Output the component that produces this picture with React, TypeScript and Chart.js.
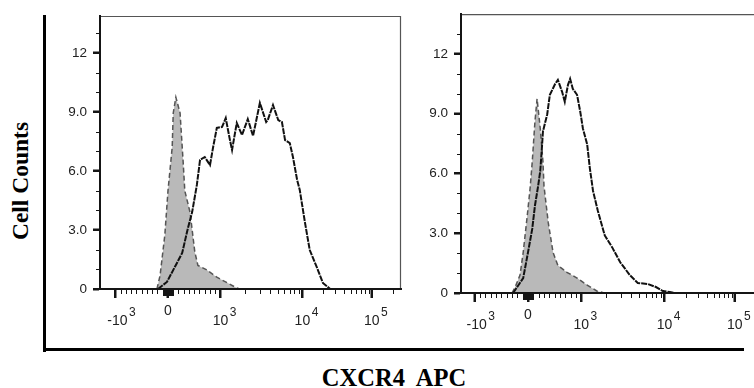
import React, { useEffect, useRef } from "react";
import { Chart, registerables } from "chart.js";
Chart.register(...registerables);

// ---------- axis definitions ----------
const X_TICK_VALUES = [-1000, 0, 1000, 10000, 100000];
const X_LABEL_BASES = ["-10", "0", "10", "10", "10"];
const X_LABEL_EXPS = ["3", "", "3", "4", "5"];
const Y_TICK_VALUES = [0, 3, 6, 9, 12];
const Y_TICK_LABELS = ["0", "3.0", "6.0", "9.0", "12"];
const Y_MINOR_VALUES = [1, 2, 4, 5, 7, 8, 10, 11, 13];

// minor tick values on the biexponential axis
const X_MINOR_VALUES: number[] = [];
for (let k = 1; k <= 9; k++) {
  X_MINOR_VALUES.push(k * 10, -k * 10, k * 100, -k * 100);
  if (k >= 2) X_MINOR_VALUES.push(k * 1000, k * 10000, k * 100000);
}

// biexponential display transform (linear near zero, log above 10^3)
function toDisplay(v: number): number {
  if (Math.abs(v) <= 1000) return v / 1000;
  if (v > 1000 && v <= 10000) return 1 + 1.56 * Math.log10(v / 1000);
  if (v > 10000) return 2.56 + 1.32 * Math.log10(v / 10000);
  return -1 - 1.56 * Math.log10(-v / 1000);
}

// ---------- histogram data (x in display units, y = cell counts) ----------
const LEFT_ISO_X = [-0.21, -0.15, -0.06, 0.0, 0.08, 0.1, 0.15, 0.23, 0.29, 0.32, 0.42, 0.51, 0.57, 0.74, 0.93, 1.14, 1.31, 1.37];
const LEFT_ISO_Y = [0, 0.7, 2.75, 5.0, 7.2, 8.95, 9.75, 8.95, 6.4, 5.0, 3.9, 1.9, 1.2, 0.97, 0.6, 0.3, 0.05, 0];

const LEFT_CXCR4_X = [-0.19, -0.02, 0.13, 0.27, 0.38, 0.46, 0.55, 0.61, 0.7, 0.8, 0.86, 0.93, 1.03, 1.1, 1.18, 1.22, 1.31, 1.41, 1.52, 1.62, 1.75, 1.87, 1.9, 2.0, 2.1, 2.17, 2.23, 2.32, 2.38, 2.46, 2.51, 2.61, 2.7, 2.84, 2.95, 3.09];
const LEFT_CXCR4_Y = [0, 0.36, 1.12, 1.83, 3.1, 3.91, 5.29, 6.56, 6.71, 6.3, 7.22, 8.19, 8.24, 8.69, 7.57, 7.07, 8.44, 7.83, 8.64, 7.78, 9.46, 8.49, 8.59, 9.35, 8.59, 8.49, 7.57, 7.42, 6.71, 5.54, 5.03, 3.36, 1.98, 1.07, 0.31, 0];

const RIGHT_ISO_X = [-0.3, -0.24, -0.15, -0.09, -0.02, 0.04, 0.08, 0.13, 0.17, 0.23, 0.28, 0.3, 0.38, 0.47, 0.56, 0.73, 0.92, 1.11, 1.29, 1.43];
const RIGHT_ISO_Y = [0, 0.3, 0.9, 2.04, 3.73, 5.27, 6.6, 8.6, 9.75, 8.26, 6.6, 5.37, 3.53, 2.04, 1.39, 1.04, 0.75, 0.4, 0.1, 0];

const RIGHT_CXCR4_X = [-0.28, -0.19, -0.09, 0.0, 0.08, 0.13, 0.19, 0.23, 0.26, 0.28, 0.36, 0.41, 0.51, 0.56, 0.64, 0.69, 0.75, 0.79, 0.84, 0.92, 0.98, 1.03, 1.11, 1.16, 1.22, 1.31, 1.44, 1.58, 1.73, 1.91, 2.06, 2.25, 2.4, 2.53, 2.66, 2.76];
const RIGHT_CXCR4_Y = [0, 0.35, 0.75, 2.04, 3.23, 4.38, 5.37, 6.12, 7.26, 8.11, 8.96, 9.95, 10.5, 10.7, 10.1, 9.6, 10.45, 10.75, 10.25, 9.95, 9.1, 8.26, 7.46, 6.27, 5.12, 4.13, 2.89, 2.29, 1.54, 0.9, 0.5, 0.45, 0.3, 0.1, 0.05, 0];

const AXIS_COLOR = "#151515";
const LABEL_COLOR = "#222";
const SANS = '"Liberation Sans", Arial, sans-serif';

const zip = (xs: number[], ys: number[]) => xs.map((x, i) => ({ x, y: ys[i] }));

// panel frame (top/right in gray) plus the dark axis lines and all tick marks
const axesPlugin = {
  id: "axesOverlay",
  afterDraw(chart: any) {
    const { ctx, chartArea } = chart;
    const { left, right, top, bottom } = chartArea;
    const x = chart.scales.x;
    const y = chart.scales.y;
    ctx.save();
    // frame
    ctx.strokeStyle = "#555";
    ctx.lineWidth = 1.2;
    ctx.beginPath();
    ctx.moveTo(left, top + 0.5);
    ctx.lineTo(right - 0.5, top + 0.5);
    ctx.lineTo(right - 0.5, bottom);
    ctx.stroke();
    // axis lines
    ctx.strokeStyle = AXIS_COLOR;
    ctx.lineWidth = 2;
    ctx.beginPath();
    ctx.moveTo(left, top);
    ctx.lineTo(left, bottom + 1);
    ctx.moveTo(left - 1, bottom);
    ctx.lineTo(right, bottom);
    // major ticks
    for (const v of X_TICK_VALUES) {
      const px = Math.round(x.getPixelForValue(toDisplay(v)));
      ctx.moveTo(px, bottom);
      ctx.lineTo(px, bottom + 9);
    }
    for (const v of Y_TICK_VALUES) {
      const py = Math.round(y.getPixelForValue(v));
      ctx.moveTo(left, py);
      ctx.lineTo(left - 7, py);
    }
    ctx.stroke();
    // minor ticks
    ctx.lineWidth = 1;
    ctx.beginPath();
    for (const v of X_MINOR_VALUES) {
      const d = toDisplay(v);
      if (d < x.min || d > x.max) continue;
      const px = Math.round(x.getPixelForValue(d)) + 0.5;
      const len = Math.abs(v) < 100 ? 7 : 5;
      ctx.moveTo(px, bottom);
      ctx.lineTo(px, bottom + len);
    }
    for (const v of Y_MINOR_VALUES) {
      if (v > y.max) continue;
      const py = Math.round(y.getPixelForValue(v)) + 0.5;
      ctx.moveTo(left, py);
      ctx.lineTo(left - 4, py);
    }
    ctx.stroke();
    ctx.restore();
  },
};

// x tick labels with superscript exponents (10^n), placed via the x scale
const expLabelPlugin = {
  id: "expLabels",
  afterDraw(chart: any) {
    const { ctx } = chart;
    const x = chart.scales.x;
    const axisY = chart.chartArea.bottom;
    ctx.save();
    ctx.fillStyle = LABEL_COLOR;
    ctx.textBaseline = "alphabetic";
    X_TICK_VALUES.forEach((v, i) => {
      const px = x.getPixelForValue(toDisplay(v));
      const base = X_LABEL_BASES[i];
      const exp = X_LABEL_EXPS[i];
      ctx.font = `14px ${SANS}`;
      ctx.textAlign = "center";
      if (!exp) {
        ctx.fillText(base, px, axisY + 26);
        return;
      }
      const cx = v < 0 ? px + 2 : px;
      const w = ctx.measureText(base).width;
      ctx.fillText(base, cx, axisY + 35.5);
      ctx.font = `12px ${SANS}`;
      ctx.textAlign = "left";
      ctx.fillText(exp, cx + w / 2 + 1.5, axisY + 27);
    });
    ctx.restore();
  },
};

interface PanelCfg {
  isoX: number[];
  isoY: number[];
  posX: number[];
  posY: number[];
  xMin: number;
  xMax: number;
  yMax: number;
  yW: number;
  xH: number;
  padTop: number;
  padRight: number;
}

function makeChart(canvas: HTMLCanvasElement, c: PanelCfg) {
  return new Chart(canvas, {
    type: "line",
    data: {
      datasets: [
        {
          label: "CXCR4",
          data: zip(c.posX, c.posY),
          borderColor: "#111",
          borderWidth: 2,
          borderDash: [6, 1],
          pointRadius: 0,
          fill: false,
          tension: 0,
        },
        {
          label: "Isotype",
          data: zip(c.isoX, c.isoY),
          borderColor: "#555",
          borderWidth: 1.5,
          borderDash: [5, 3],
          backgroundColor: "#b9b9b9",
          fill: "origin",
          pointRadius: 0,
          tension: 0,
        },
      ],
    } as any,
    options: {
      responsive: false,
      animation: false,
      layout: { padding: { top: c.padTop, right: c.padRight, left: 0, bottom: 0 } },
      plugins: { legend: { display: false }, tooltip: { enabled: false } },
      scales: {
        x: {
          type: "linear",
          min: c.xMin,
          max: c.xMax,
          afterFit: (s: any) => {
            s.height = c.xH;
          },
          afterBuildTicks: (s: any) => {
            s.ticks = X_TICK_VALUES.map((v) => ({ value: toDisplay(v) }));
          },
          ticks: { display: false, autoSkip: false, maxRotation: 0 },
          grid: { drawOnChartArea: false, drawTicks: true, tickLength: 9, tickWidth: 2, tickColor: AXIS_COLOR },
          border: { display: true, color: AXIS_COLOR, width: 2 },
        },
        y: {
          type: "linear",
          min: 0,
          max: c.yMax,
          afterFit: (s: any) => {
            s.width = c.yW;
          },
          afterBuildTicks: (s: any) => {
            s.ticks = Y_TICK_VALUES.map((v) => ({ value: v }));
          },
          ticks: {
            callback: (_v: any, i: number) => Y_TICK_LABELS[i],
            autoSkip: false,
            padding: 6,
            color: LABEL_COLOR,
            font: { family: SANS, size: 13.5 },
          },
          grid: { drawOnChartArea: false, drawTicks: true, tickLength: 7, tickWidth: 2, tickColor: AXIS_COLOR },
          border: { display: true, color: AXIS_COLOR, width: 2 },
        },
      },
    } as any,
    plugins: [axesPlugin, expLabelPlugin],
  });
}

export default function App() {
  const leftRef = useRef<HTMLCanvasElement>(null);
  const rightRef = useRef<HTMLCanvasElement>(null);

  useEffect(() => {
    const a = makeChart(leftRef.current!, {
      isoX: LEFT_ISO_X,
      isoY: LEFT_ISO_Y,
      posX: LEFT_CXCR4_X,
      posY: LEFT_CXCR4_Y,
      xMin: -1.295,
      xMax: 4.438,
      yMax: 13.88,
      yW: 50,
      xH: 51,
      padTop: 16,
      padRight: 9,
    });
    const b = makeChart(rightRef.current!, {
      isoX: RIGHT_ISO_X,
      isoY: RIGHT_ISO_Y,
      posX: RIGHT_CXCR4_X,
      posY: RIGHT_CXCR4_Y,
      xMin: -1.257,
      xMax: 4.54,
      yMax: 14.0,
      yW: 51,
      xH: 47,
      padTop: 12,
      padRight: 0,
    });
    return () => {
      a.destroy();
      b.destroy();
    };
  }, []);

  const serif = '"Liberation Serif", "Times New Roman", serif';

  return (
    <div style={{ position: "fixed", left: 0, top: 0, width: 754, height: 388, overflow: "hidden", background: "#fff" }}>
      <canvas ref={leftRef} width={360} height={340} style={{ position: "absolute", left: 50, top: 0, width: 360, height: 340 }} />
      <canvas ref={rightRef} width={360} height={340} style={{ position: "absolute", left: 410, top: 0, width: 360, height: 340 }} />
      <div style={{ position: "absolute", left: 43, top: 15, width: 3, height: 337, background: "#000" }} />
      <div style={{ position: "absolute", left: 43, top: 348, width: 701, height: 3, background: "#000" }} />
      <div
        style={{
          position: "absolute",
          left: 20,
          top: 181,
          transform: "translate(-50%, -50%) rotate(-90deg)",
          whiteSpace: "nowrap",
          font: `bold 23.5px ${serif}`,
          lineHeight: "24px",
          color: "#000",
        }}
      >
        Cell Counts
      </div>
      <div
        style={{
          position: "absolute",
          left: 394,
          top: 366,
          transform: "translateX(-50%)",
          whiteSpace: "pre",
          font: `bold 24.5px ${serif}`,
          lineHeight: "24px",
          color: "#000",
        }}
      >
        CXCR4  APC
      </div>
    </div>
  );
}
